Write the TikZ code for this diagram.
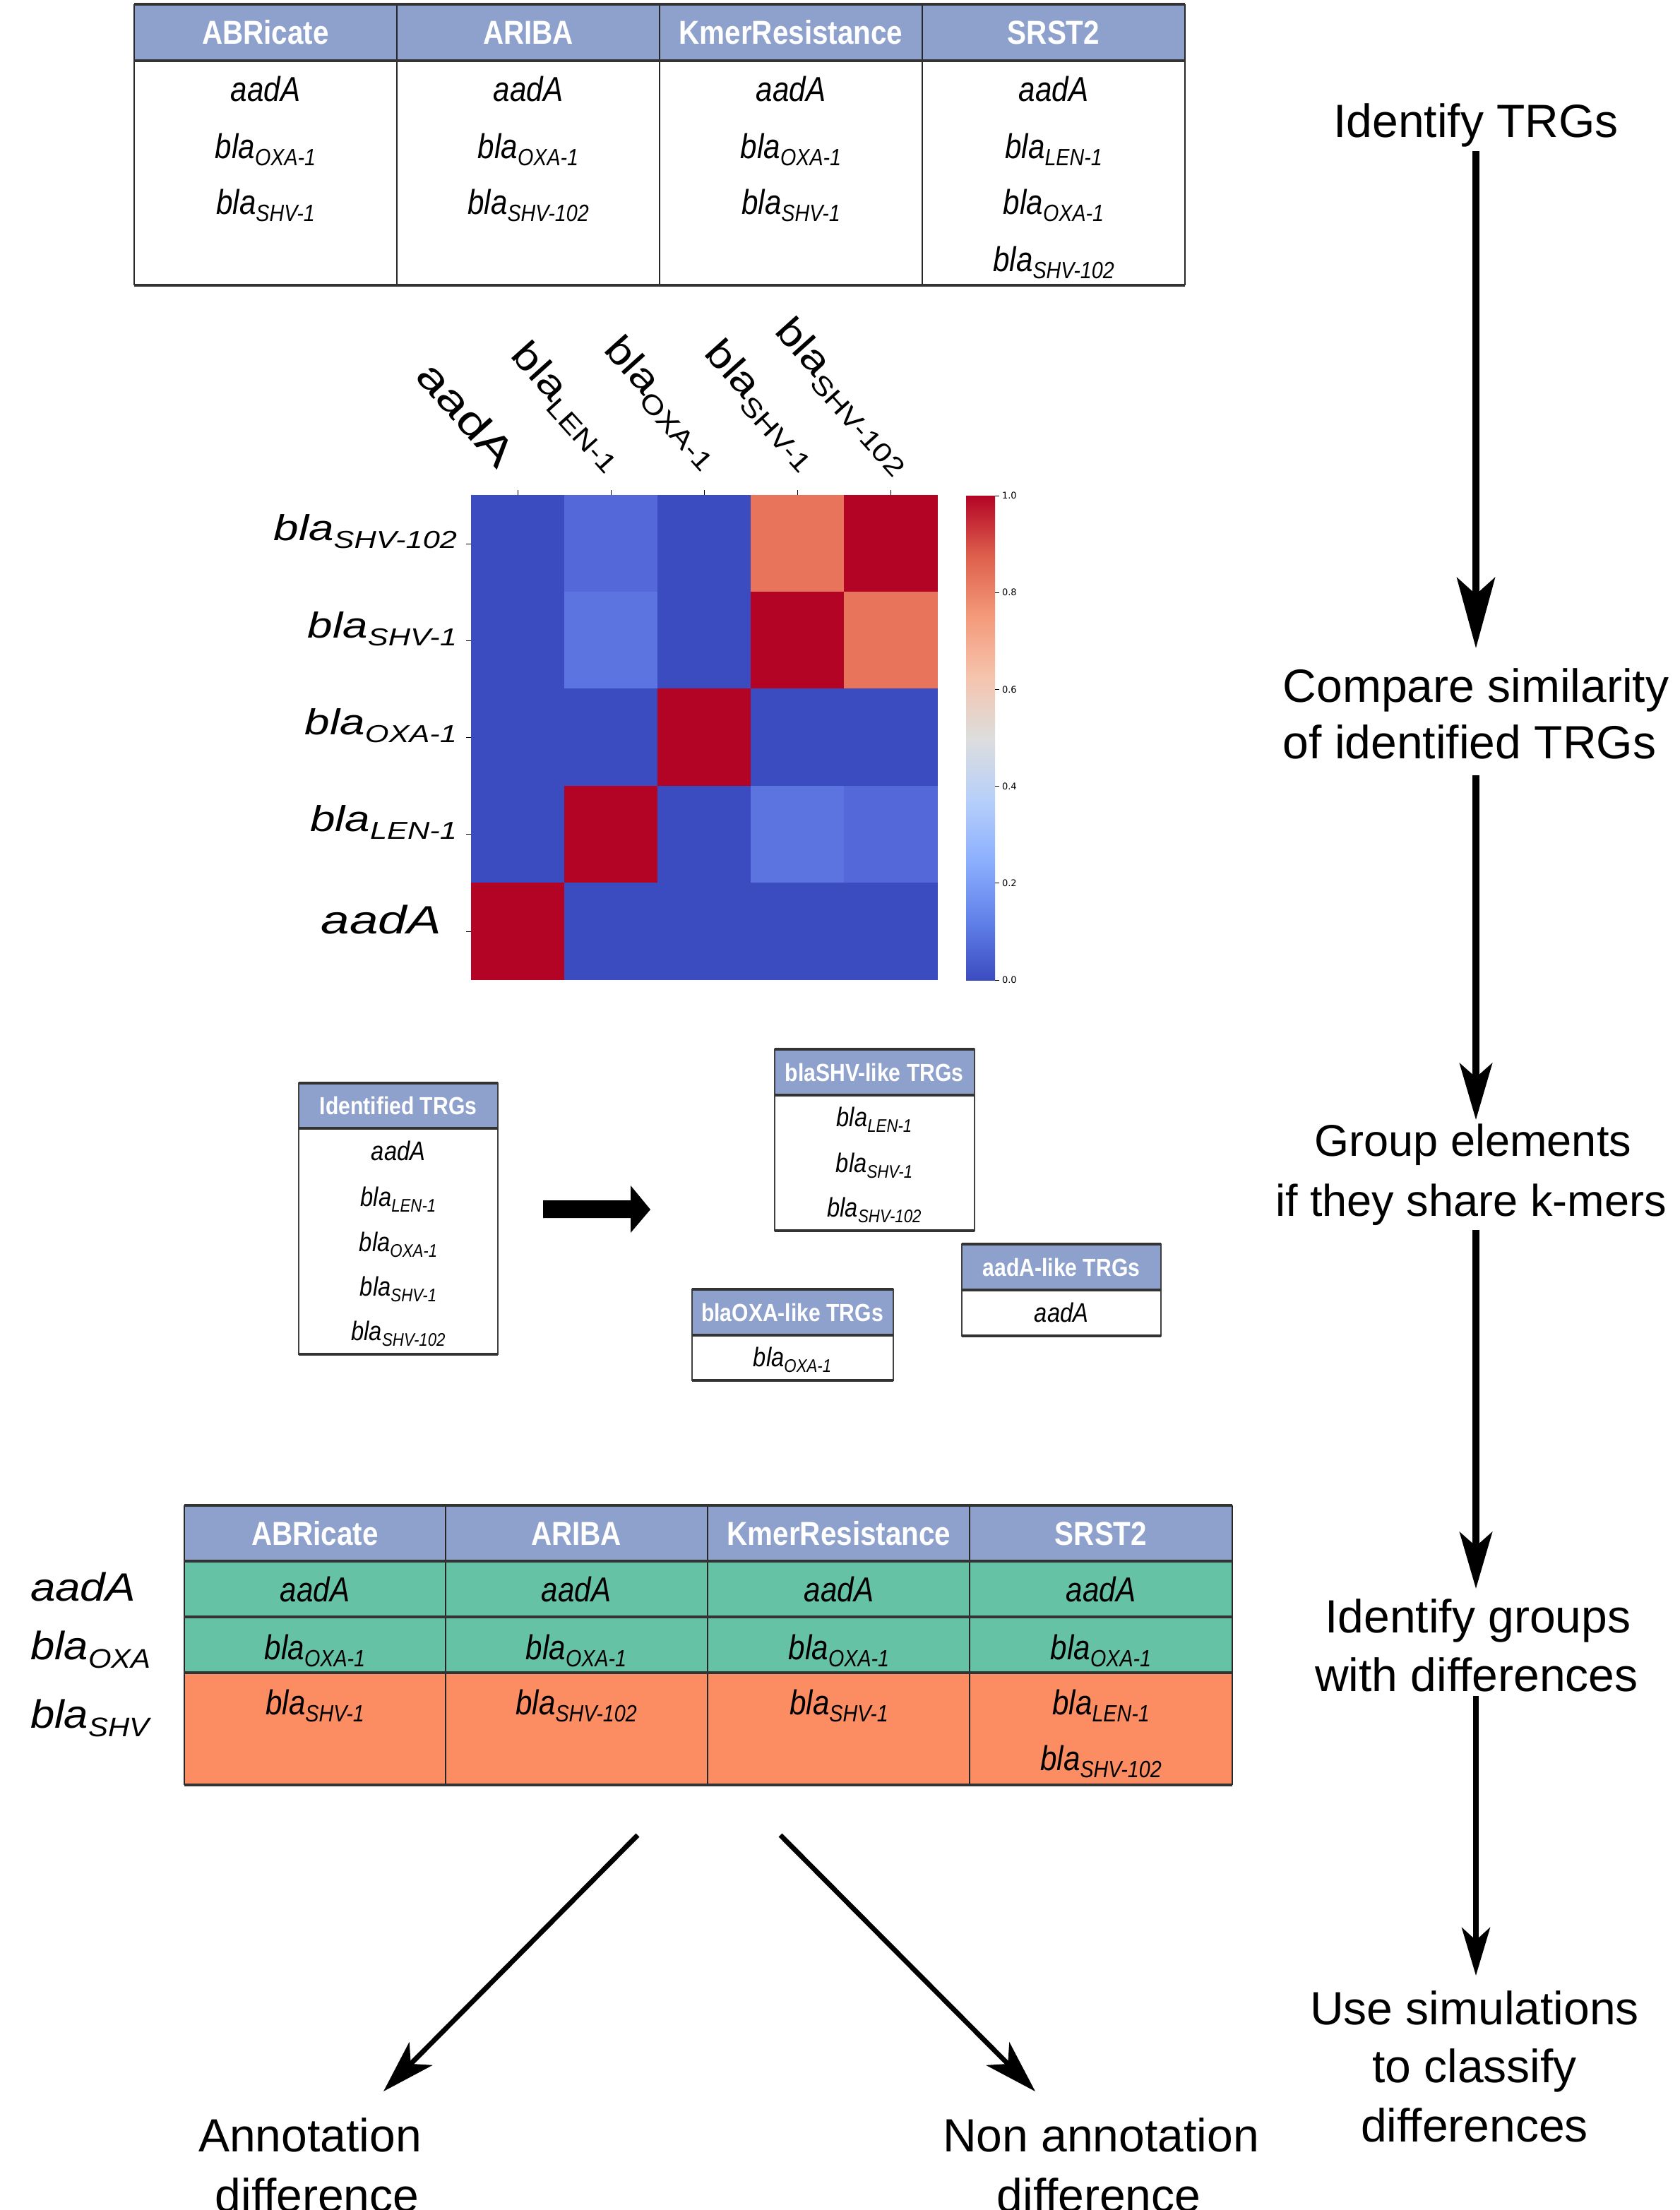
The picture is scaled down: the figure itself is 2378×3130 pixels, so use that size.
\documentclass[tikz,border=0pt]{standalone}
\usepackage{fontspec}
\setmainfont{Liberation Sans}
\newfontfamily\cond[FakeStretch=0.86]{Liberation Sans}
\newfontfamily\dejavu{DejaVu Sans}
\usetikzlibrary{arrows.meta}
\definecolor{hdr}{HTML}{8EA1CC}
\definecolor{grn}{HTML}{66C2A5}
\definecolor{org}{HTML}{FC8D62}
\definecolor{cwb}{HTML}{3B4CC0}
\definecolor{cwr}{HTML}{B40426}
\definecolor{cwo}{HTML}{E7745B}
\definecolor{cwlA}{HTML}{5468DA}
\definecolor{cwlB}{HTML}{5B74E0}
\definecolor{cwA}{HTML}{3B4CC0}
\definecolor{cwB}{HTML}{6282EA}
\definecolor{cwC}{HTML}{8DB0FE}
\definecolor{cwD}{HTML}{B8D0F9}
\definecolor{cwE}{HTML}{DDDDDD}
\definecolor{cwF}{HTML}{F5C4AD}
\definecolor{cwG}{HTML}{F49A7B}
\definecolor{cwH}{HTML}{DE604D}
\definecolor{cwI}{HTML}{B40426}
\pgfdeclareverticalshading{coolwarm}{100bp}{color(0bp)=(cwA); color(25bp)=(cwA); color(31.25bp)=(cwB); color(37.5bp)=(cwC); color(43.75bp)=(cwD); color(50bp)=(cwE); color(56.25bp)=(cwF); color(62.5bp)=(cwG); color(68.75bp)=(cwH); color(75bp)=(cwI); color(100bp)=(cwI)}
\makeatletter
\newcommand\sbs[1]{\raisebox{-0.22em}{\fontsize{\fpeval{0.68*\f@size}}{1}\selectfont #1}}
\makeatother
\newcommand\blag[1]{\textit{bla}\sbs{\textit{#1}}}
\newcommand\blau[1]{bla\sbs{#1}}
\begin{document}
\begin{tikzpicture}[x=1pt,y=-1pt,
 every node/.style={inner sep=0pt,outer sep=0pt},
 thead/.style={font=\cond\bfseries\fontsize{47}{50}\selectfont,text=white},
 tcell/.style={font=\cond\itshape\fontsize{49}{55}\selectfont,anchor=base},
 ghead/.style={font=\cond\bfseries\fontsize{35}{40}\selectfont,text=white},
 gcell/.style={font=\cond\itshape\fontsize{38}{42}\selectfont,anchor=base},
 slab/.style={font=\fontsize{66}{80}\selectfont,anchor=base},
 hrow/.style={font=\itshape\fontsize{51}{55}\selectfont,anchor=base east},
 hcol/.style={font=\fontsize{55}{60}\selectfont,anchor=south east,rotate=-48},
 llab/.style={font=\itshape\fontsize{56}{60}\selectfont,anchor=base west},
 cbl/.style={font=\dejavu\fontsize{13}{14}\selectfont,anchor=west},
 tline/.style={line width=2pt,black!85},
 rule/.style={line width=4pt,black!80},
 boxedge/.style={line width=2.5pt,black!75},
 flowA/.style={line width=10pt,-{Stealth[length=100pt,width=54pt,inset=24pt]}},
 flowB/.style={line width=10pt,-{Stealth[length=80pt,width=46pt,inset=20pt]}},
 flowC/.style={line width=8pt,-{Stealth[length=68pt,width=40pt,inset=18pt]}},
 diag/.style={line width=7pt,-{Stealth[length=75pt,width=46pt,inset=20pt]}},
 htick/.style={line width=1pt,black}
]
\useasboundingbox (0,0) rectangle (2378,3130);
\fill[white] (0,0) rectangle (2378,3130);

% ---------- top table ----------
\fill[hdr] (190,6) rectangle (1678,86);
\foreach \x in {190,562,934,1306,1678} \draw[tline] (\x,6) -- (\x,404);
\draw[rule] (190,6) -- (1678,6);
\draw[rule] (190,86) -- (1678,86);
\draw[rule] (190,404) -- (1678,404);
\node[thead] (th1) at (376,46) {ABRicate};
\node[thead] (th2) at (748,46) {ARIBA};
\node[thead] (th3) at (1120,46) {KmerResistance};
\node[thead] (th4) at (1492,46) {SRST2};
\node[tcell] (t11) at (376,143) {aadA};
\node[tcell] (t12) at (376,224) {\blag{OXA-1}};
\node[tcell] (t13) at (376,303) {\blag{SHV-1}};
\node[tcell] (t21) at (748,143) {aadA};
\node[tcell] (t22) at (748,224) {\blag{OXA-1}};
\node[tcell] (t23) at (748,303) {\blag{SHV-102}};
\node[tcell] (t31) at (1120,143) {aadA};
\node[tcell] (t32) at (1120,224) {\blag{OXA-1}};
\node[tcell] (t33) at (1120,303) {\blag{SHV-1}};
\node[tcell] (t41) at (1492,143) {aadA};
\node[tcell] (t42) at (1492,224) {\blag{LEN-1}};
\node[tcell] (t43) at (1492,303) {\blag{OXA-1}};
\node[tcell] (t44) at (1492,384) {\blag{SHV-102}};

% ---------- heatmap ----------
\foreach \c [count=\i from 0] in {cwb,cwlA,cwb,cwo,cwr,cwb,cwlB,cwb,cwr,cwo,cwb,cwb,cwr,cwb,cwb,cwb,cwr,cwb,cwlB,cwlA,cwr,cwb,cwb,cwb,cwb}{
  \pgfmathtruncatemacro\cc{mod(\i,5)}
  \pgfmathtruncatemacro\rr{div(\i,5)}
  \fill[\c] ({667+132*\cc},{701+137.2*\rr}) rectangle ++(132.6,137.8);
}
\foreach \y in {770,907,1044,1181,1319} \draw[htick] (660,\y) -- (667,\y);
\foreach \x in {733,865,997,1129,1261} \draw[htick] (\x,694) -- (\x,701);
\node[hrow] (r1) at (647,765) {\scalebox{1.25}[1]{\blag{SHV-102}}};
\node[hrow] (r2) at (647,903) {\scalebox{1.25}[1]{\blag{SHV-1}}};
\node[hrow] (r3) at (647,1040) {\scalebox{1.25}[1]{\blag{OXA-1}}};
\node[hrow] (r4) at (647,1177) {\scalebox{1.25}[1]{\blag{LEN-1}}};
\node[hrow,font=\itshape\fontsize{56}{60}\selectfont] (r5) at (625,1322) {\scalebox{1.3}[1]{aadA}};
\node[hcol,font=\fontsize{58}{60}\selectfont] (c1) at (704,666) {\scalebox{1.3}[1]{aadA}};
\node[hcol] (c2) at (857,673) {\scalebox{1.2}[1]{\blau{LEN-1}}};
\node[hcol] (c3) at (993,670) {\scalebox{1.2}[1]{\blau{OXA-1}}};
\node[hcol] (c4) at (1132,672) {\scalebox{1.2}[1]{\blau{SHV-1}}};
\node[hcol] (c5) at (1265,678) {\scalebox{1.2}[1]{\blau{SHV-102}}};
% colour bar
\shade[shading=coolwarm] (1368,702) rectangle (1409,1388);
\foreach \v/\t in {0/0.0,0.2/0.2,0.4/0.4,0.6/0.6,0.8/0.8,1/1.0}{
  \draw[htick] (1409,{1388-686*\v}) -- (1415,{1388-686*\v});
  \node[cbl] at (1419,{1388-686*\v}) {\t};
}

% ---------- grouping ----------
% Identified TRGs
\fill[hdr] (423,1534) rectangle (705,1598);
\draw[boxedge] (423,1534) rectangle (705,1918);
\draw[rule] (423,1534) -- (705,1534) (423,1598) -- (705,1598) (423,1918) -- (705,1918);
\node[ghead] (gi) at (564,1566) {Identified TRGs};
\node[gcell] (gi1) at (564,1643) {aadA};
\node[gcell] (gi2) at (564,1708) {\blag{LEN-1}};
\node[gcell] (gi3) at (564,1772) {\blag{OXA-1}};
\node[gcell] (gi4) at (564,1835) {\blag{SHV-1}};
\node[gcell] (gi5) at (564,1898) {\blag{SHV-102}};
% blaSHV-like
\fill[hdr] (1097,1486) rectangle (1380,1551);
\draw[boxedge] (1097,1486) rectangle (1380,1743);
\draw[rule] (1097,1486) -- (1380,1486) (1097,1551) -- (1380,1551) (1097,1743) -- (1380,1743);
\node[ghead] (gs) at (1238,1519) {blaSHV-like TRGs};
\node[gcell] (gs1) at (1238,1595) {\blag{LEN-1}};
\node[gcell] (gs2) at (1238,1660) {\blag{SHV-1}};
\node[gcell] (gs3) at (1238,1723) {\blag{SHV-102}};
% aadA-like
\fill[hdr] (1362,1762) rectangle (1644,1827);
\draw[boxedge] (1362,1762) rectangle (1644,1892);
\draw[rule] (1362,1762) -- (1644,1762) (1362,1827) -- (1644,1827) (1362,1892) -- (1644,1892);
\node[ghead] (ga) at (1503,1795) {aadA-like TRGs};
\node[gcell] (ga1) at (1503,1872) {aadA};
% blaOXA-like
\fill[hdr] (980,1826) rectangle (1265,1891);
\draw[boxedge] (980,1826) rectangle (1265,1955);
\draw[rule] (980,1826) -- (1265,1826) (980,1891) -- (1265,1891) (980,1955) -- (1265,1955);
\node[ghead] (go) at (1122,1859) {blaOXA-like TRGs};
\node[gcell] (go1) at (1122,1935) {\blag{OXA-1}};
% block arrow
\fill (769,1700) -- (893,1700) -- (893,1679) -- (921,1713) -- (893,1746) -- (893,1725) -- (769,1725) -- cycle;

% ---------- bottom table ----------
\fill[hdr] (261,2132) rectangle (1745,2211);
\fill[grn] (261,2211) rectangle (1745,2369);
\fill[org] (261,2369) rectangle (1745,2528);
\foreach \x in {261,631,1002,1373,1745} \draw[tline] (\x,2132) -- (\x,2528);
\foreach \y in {2132,2211,2290,2369,2528} \draw[rule] (261,\y) -- (1745,\y);
\node[thead] (bh1) at (446,2172) {ABRicate};
\node[thead] (bh2) at (816,2172) {ARIBA};
\node[thead] (bh3) at (1188,2172) {KmerResistance};
\node[thead] (bh4) at (1559,2172) {SRST2};
\foreach \x/\n in {446/1,816/2,1188/3,1559/4}{
  \node[tcell] (ba\n) at (\x,2268) {aadA};
  \node[tcell] (bo\n) at (\x,2350) {\blag{OXA-1}};
}
\node[tcell] (bs1) at (446,2428) {\blag{SHV-1}};
\node[tcell] (bs2) at (816,2428) {\blag{SHV-102}};
\node[tcell] (bs3) at (1188,2428) {\blag{SHV-1}};
\node[tcell] (bs4) at (1559,2428) {\blag{LEN-1}};
\node[tcell] (bs5) at (1559,2507) {\blag{SHV-102}};
\node[llab] (la) at (43,2267) {\scalebox{1.14}[1]{aadA}};
\node[llab] (lo) at (43,2350) {\scalebox{1.1}[1]{\blag{OXA}}};
\node[llab] (ls) at (43,2447) {\scalebox{1.1}[1]{\blag{SHV}}};

% ---------- outcome arrows ----------
\coordinate (d1s) at (903,2599);
\coordinate (d1e) at (543,2962);
\coordinate (d2s) at (1105,2599);
\coordinate (d2e) at (1466,2962);
\draw[diag] (d1s) -- (d1e);
\draw[diag] (d2s) -- (d2e);
\node[slab] (an1) at (439,3047) {Annotation};
\node[slab] (an2) at (449,3132) {difference};
\node[slab] (na1) at (1559,3047) {Non annotation};
\node[slab] (na2) at (1556,3132) {difference};

% ---------- right column ----------
\node[slab] (s1) at (2090,194) {Identify TRGs};
\node[slab] (s2a) at (2090,994) {Compare similarity};
\node[slab] (s2b) at (2081,1074) {of identified TRGs};
\node[slab,font=\fontsize{63}{80}\selectfont] (s3a) at (2086,1637) {Group elements};
\node[slab,font=\fontsize{63}{80}\selectfont] (s3b) at (2083,1722) {if they share k-mers};
\node[slab] (s4a) at (2093,2312) {Identify groups};
\node[slab] (s4b) at (2091,2395) {with differences};
\node[slab] (s5a) at (2088,2867) {Use simulations};
\node[slab] (s5b) at (2088,2949) {to classify};
\node[slab] (s5c) at (2088,3033) {differences};
\coordinate (a1s) at (2090,214);
\coordinate (a1e) at (2090,918);
\coordinate (a2s) at (2090,1098);
\coordinate (a2e) at (2090,1586);
\coordinate (a3s) at (2090,1742);
\coordinate (a3e) at (2090,2250);
\coordinate (a4s) at (2090,2402);
\coordinate (a4e) at (2090,2798);
\draw[flowA] (a1s) -- (a1e);
\draw[flowB] (a2s) -- (a2e);
\draw[flowB] (a3s) -- (a3e);
\draw[flowC] (a4s) -- (a4e);
\end{tikzpicture}
\end{document}
